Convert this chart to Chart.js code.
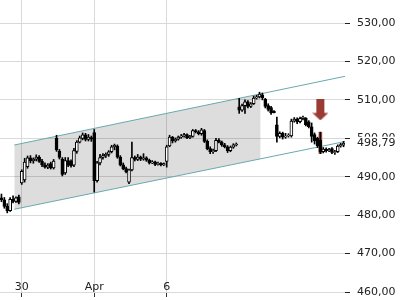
<!DOCTYPE html>
<html>
<head>
<meta charset="utf-8">
<script src="https://cdn.jsdelivr.net/npm/chart.js@4.4.1/dist/chart.umd.min.js"></script>
<style>
html,body{margin:0;padding:0;background:#fff;}
canvas{display:block;}
</style>
</head>
<body>
<canvas id="c" width="400" height="300"></canvas>
<script>
// ---- data ----
const opens  = [484.5,484.0,482.3,481.2,484.1,483.6,484.8,488.4,489.2,492.6,494.9,494.1,494.6,495.1,494.0,493.1,492.5,493.4,492.3,500.0,
496.6,494.6,491.0,494.2,494.0,493.0,496.6,499.0,500.0,500.9,499.7,500.2,501.5,489.0,493.6,495.0,495.5,495.8,496.5,497.8,
498.0,495.1,493.1,492.1,488.6,491.8,495.0,494.5,495.1,494.6,494.9,494.3,493.6,493.9,493.2,493.5,493.1,494.0,498.0,500.3,
499.3,499.8,500.3,500.6,501.0,500.2,500.5,502.0,501.7,501.2,502.0,499.2,497.3,496.5,496.8,499.5,499.0,498.3,497.8,496.8,
497.7,498.3,508.2,507.3,508.5,509.5,508.3,509.0,510.5,510.8,511.3,510.2,508.5,508.0,507.0,503.5,500.5,501.3,500.3,500.6,
500.6,504.5,505.0,504.3,505.2,505.2,504.3,503.0,501.0,500.0,499.5,496.5,497.2,496.8,497.3,496.3,496.5,498.0,498.2];
const highs  = [485.5,484.6,483.0,484.6,485.0,484.8,485.2,491.8,494.8,495.4,495.5,494.9,495.7,495.5,494.5,493.6,493.4,493.8,494.5,500.8,
497.1,495.0,495.0,495.0,494.4,497.4,499.4,500.6,501.4,501.3,501.0,500.6,502.3,494.0,495.8,496.0,496.2,496.8,498.2,498.5,
498.3,495.5,493.6,492.5,492.0,499.0,495.4,495.8,495.4,496.0,495.2,494.6,494.2,494.1,493.8,493.7,493.6,498.2,500.8,500.5,
500.1,500.6,501.0,501.3,501.2,500.8,502.3,502.3,502.0,502.6,502.3,499.6,497.8,497.2,500.0,499.9,499.3,498.7,498.1,498.0,
498.6,498.8,510.4,508.9,510.0,509.8,509.3,511.0,511.2,512.0,511.8,510.4,509.0,508.3,507.2,505.5,501.7,501.6,501.3,501.2,
505.0,505.4,505.3,505.5,505.8,505.4,504.6,504.0,501.4,500.3,501.6,497.6,497.5,497.4,497.6,496.9,498.3,498.7,499.2];
const lows   = [483.5,481.8,480.6,481.0,483.2,483.3,482.9,488.0,488.6,492.2,493.6,493.5,494.1,493.7,492.6,492.2,492.1,492.0,492.0,496.6,
494.6,490.2,490.6,492.6,492.5,492.6,496.1,498.8,499.6,499.3,499.3,499.2,486.0,488.6,493.1,494.6,495.0,495.3,496.2,497.0,
494.8,492.8,491.8,491.0,488.2,491.5,494.1,494.2,494.2,494.3,494.0,493.3,493.4,492.9,493.0,492.8,492.9,492.5,497.8,498.8,
499.0,499.5,500.0,500.3,499.9,499.9,500.3,501.4,500.9,500.8,498.9,497.0,496.0,496.1,496.5,498.8,497.9,497.5,496.3,496.5,
497.4,498.0,506.5,507.0,506.5,507.9,508.0,508.8,510.2,510.5,510.0,507.9,507.1,506.2,506.6,499.0,500.1,499.8,500.0,500.3,
500.3,504.2,503.8,504.0,504.8,503.2,502.7,499.0,498.5,497.6,496.0,496.2,496.4,496.5,496.0,495.8,496.3,497.7,497.8];
const closes = [484.0,482.3,481.2,484.1,483.6,484.5,483.3,491.4,493.8,494.9,494.1,494.6,495.1,494.0,493.1,492.5,493.0,492.3,494.1,497.0,
495.0,490.6,494.2,493.0,492.8,496.8,499.0,500.1,500.9,499.7,500.3,499.8,489.0,493.6,495.0,495.5,495.8,496.5,497.8,498.2,
495.1,493.1,492.1,491.3,491.8,495.0,494.5,495.1,494.6,494.9,494.3,493.6,493.9,493.2,493.5,493.1,493.4,497.8,500.3,499.3,
499.8,500.3,500.6,501.0,500.2,500.5,502.0,501.7,501.2,502.2,499.2,497.3,496.5,496.8,499.5,499.0,498.3,497.8,496.8,497.7,
498.3,498.5,507.3,508.5,509.5,508.3,509.0,510.5,510.8,511.5,510.5,508.3,507.5,506.6,506.7,500.5,501.3,500.3,500.6,500.8,
504.5,505.0,504.3,505.2,505.5,503.5,503.0,500.5,499.3,498.0,496.5,497.2,496.8,497.0,496.3,496.5,498.0,498.4,498.79];

const xTickPositions = [7, 32, 57];
const xTickLabels    = ['30', 'Apr', '6'];
const yTicks = [460, 470, 480, 490, 500, 510, 520, 530];

const channelX      = [4.43, 118.5];
const channelUpper  = [498.26, 516.14];
const channelLower  = [481.53, 499.17];
const shadeX        = [4.43, 89.4];
const shadeUpper    = [498.26, 511.58];
const shadeLower    = [481.53, 494.67];

const highlightIndex = 110;
const highlightRange = [496.1, 501.6];
const arrowIndex = 110;
const arrowValue = 507.4;
const lastPrice = 498.79;

// ---- build ----
const idx = closes.map((_, i) => i);
const wickData = idx.map(i => ({x: i, y: [lows[i], highs[i]]}));
const bodyData = idx.map(i => ({x: i, y: [opens[i], closes[i]]}));
const bodyColors = idx.map(i => closes[i] >= opens[i] ? '#ffffff' : '#000000');

const arrowImg = document.createElement('canvas');
arrowImg.width = 16; arrowImg.height = 21;
(function(){
  const g = arrowImg.getContext('2d');
  g.fillStyle = '#9a3b34';
  g.fillRect(4, 0, 8, 14);
  g.beginPath(); g.moveTo(0, 13.5); g.lineTo(16, 13.5); g.lineTo(8, 21); g.closePath(); g.fill();
})();

const fmt = v => v.toFixed(2).replace('.', ',');

const zeroPad = s => { s.paddingLeft = 0; s.paddingRight = 0; s.paddingTop = 0; s.paddingBottom = 0; };

const lastLabel = {
  id: 'lastLabel',
  afterDraw(chart) {
    const s = chart.scales.y;
    const y = s.getPixelForValue(lastPrice);
    const ctx = chart.ctx;
    ctx.save();
    ctx.fillStyle = '#ffffff';
    ctx.fillRect(s.left + 7, y - 6.3, s.width - 7, 13);
    ctx.fillStyle = '#222';
    ctx.font = '11px "DejaVu Sans"';
    ctx.textBaseline = 'middle';
    ctx.textAlign = 'left';
    ctx.fillText(fmt(lastPrice), s.left + 12, y);
    ctx.restore();
  }
};

new Chart(document.getElementById('c'), {
  data: {
    datasets: [
      {type: 'line', order: 10, data: shadeX.map((x, k) => ({x, y: shadeUpper[k]})),
       borderWidth: 0, pointRadius: 0, fill: '+1', backgroundColor: 'rgba(0,0,0,0.135)'},
      {type: 'line', order: 11, data: shadeX.map((x, k) => ({x, y: shadeLower[k]})),
       borderWidth: 0, pointRadius: 0, fill: false},
      {type: 'line', order: 6, data: channelX.map((x, k) => ({x, y: channelUpper[k]})),
       borderColor: '#68a9ae', borderWidth: 1, pointRadius: 0, fill: false},
      {type: 'line', order: 6, data: channelX.map((x, k) => ({x, y: channelLower[k]})),
       borderColor: '#68a9ae', borderWidth: 1, pointRadius: 0, fill: false},
      {type: 'bar', order: 5, grouped: false, barThickness: 3,
       data: [{x: highlightIndex, y: highlightRange}], backgroundColor: '#b4514b'},
      {type: 'bar', order: 4, grouped: false, barThickness: 1, data: wickData, backgroundColor: '#000'},
      {type: 'bar', order: 3, grouped: false, barThickness: 3, data: bodyData,
       backgroundColor: bodyColors, borderColor: '#000', borderWidth: 1, borderSkipped: false},
      {type: 'scatter', order: 1, data: [{x: arrowIndex, y: arrowValue}],
       pointStyle: arrowImg, pointRadius: 8}
    ]
  },
  options: {
    responsive: false,
    animation: false,
    devicePixelRatio: 1,
    layout: {padding: 0, autoPadding: false},
    plugins: {legend: {display: false}, tooltip: {enabled: false}},
    scales: {
      x: {
        type: 'linear', min: -0.5, max: 118.5, offset: false,
        afterBuildTicks: s => { s.ticks = xTickPositions.map(v => ({value: v})); },
        afterFit: s => { s.height = 8; zeroPad(s); },
        ticks: {
          callback: v => xTickLabels[xTickPositions.indexOf(v)],
          font: {family: 'DejaVu Sans', size: 11}, color: '#222',
          mirror: true, padding: -2, maxRotation: 0, autoSkip: false
        },
        grid: {color: '#d9d9d9', tickColor: '#333', tickLength: 5, offset: false},
        border: {display: false}
      },
      y: {
        type: 'linear', position: 'right', min: 460, max: 536,
        afterBuildTicks: s => { s.ticks = yTicks.map(v => ({value: v})); },
        afterFit: s => { s.width = 55; zeroPad(s); },
        ticks: {
          callback: v => fmt(v),
          font: {family: 'DejaVu Sans', size: 11}, color: '#222',
          padding: 7, autoSkip: false
        },
        grid: {color: '#d9d9d9', tickColor: '#222', tickLength: 5},
        border: {display: false}
      }
    }
  },
  plugins: [lastLabel]
});
</script>
</body>
</html>
